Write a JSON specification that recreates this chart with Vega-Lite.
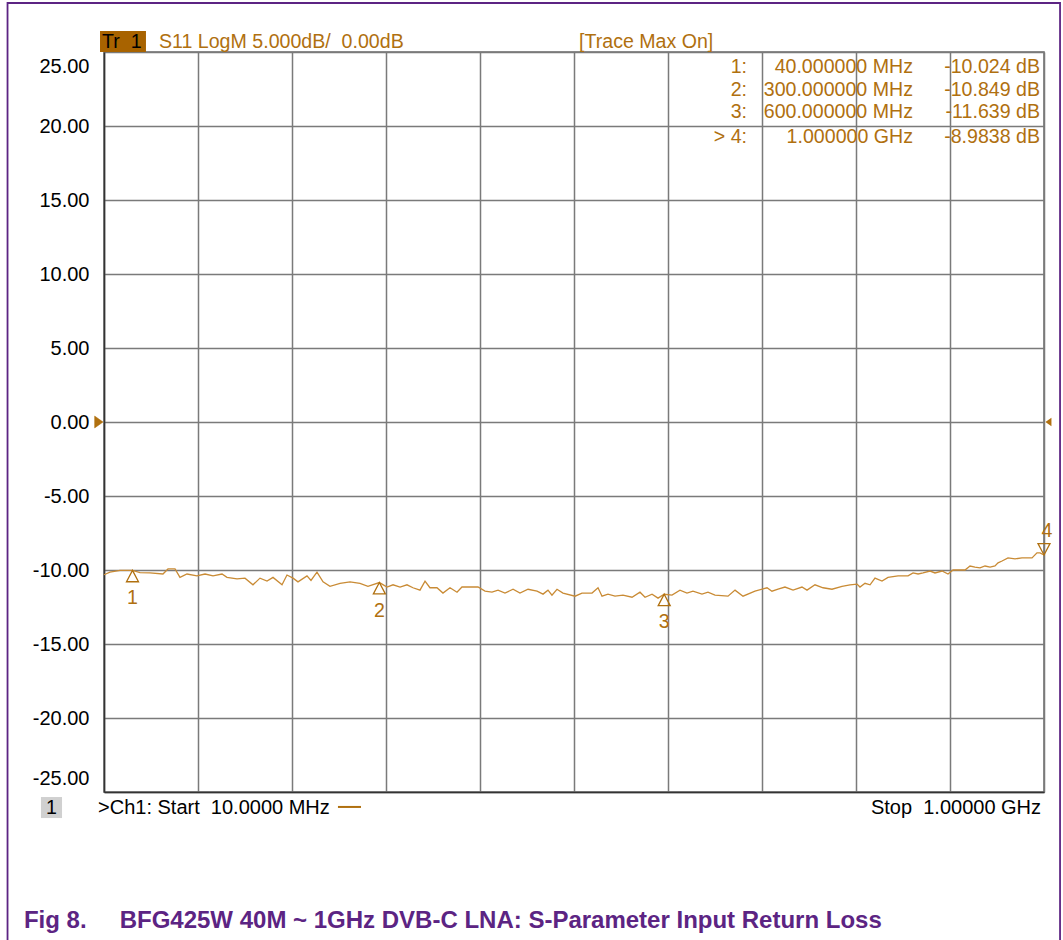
{
  "$schema": "https://vega.github.io/schema/vega-lite/v6.json",
  "width": 940,
  "height": 740,
  "autosize": {"type": "none"},
  "padding": {"left": 104, "top": 52, "right": 19, "bottom": 148},
  "background": "white",
  "data": {"values": [{}]},
  "config": {
    "view": {"stroke": "#6a6a6a", "strokeWidth": 1.5},
    "text": {"font": "Liberation Sans", "fontSize": 19.6}
  },
  "datasets": {
    "trace": [
      {"f": 10, "db": -10.32}, {"f": 16.3, "db": -10.14}, {"f": 26.9, "db": -10.02}, {"f": 34.2, "db": -10.02},
      {"f": 40, "db": -10.024}, {"f": 47.9, "db": -10.18}, {"f": 58.4, "db": -10.2}, {"f": 72.1, "db": -10.27},
      {"f": 77.4, "db": -9.93}, {"f": 84.8, "db": -9.93}, {"f": 90.0, "db": -10.5}, {"f": 97.4, "db": -10.27},
      {"f": 107.9, "db": -10.4}, {"f": 116.4, "db": -10.27}, {"f": 124.8, "db": -10.4}, {"f": 134.3, "db": -10.27},
      {"f": 139.5, "db": -10.5}, {"f": 150.1, "db": -10.6}, {"f": 158.5, "db": -10.55}, {"f": 166.9, "db": -11.0},
      {"f": 174.3, "db": -10.55}, {"f": 181.7, "db": -10.75}, {"f": 188.0, "db": -10.5}, {"f": 197.5, "db": -11.0},
      {"f": 202.7, "db": -10.34}, {"f": 209.1, "db": -10.55}, {"f": 214.3, "db": -10.8}, {"f": 223.8, "db": -10.4},
      {"f": 228.0, "db": -10.7}, {"f": 234.3, "db": -10.14}, {"f": 240.7, "db": -10.8}, {"f": 248.0, "db": -11.1},
      {"f": 258.6, "db": -10.9}, {"f": 269.1, "db": -10.8}, {"f": 279.6, "db": -10.9}, {"f": 288.0, "db": -11.1},
      {"f": 300, "db": -10.849}, {"f": 308.1, "db": -11.15}, {"f": 314.4, "db": -11.0}, {"f": 321.8, "db": -11.15},
      {"f": 329.1, "db": -11.0}, {"f": 335.4, "db": -11.2}, {"f": 342.8, "db": -11.36}, {"f": 348.1, "db": -10.75},
      {"f": 353.3, "db": -11.2}, {"f": 360.7, "db": -11.2}, {"f": 367.0, "db": -11.56}, {"f": 374.4, "db": -11.2},
      {"f": 381.8, "db": -11.5}, {"f": 387.0, "db": -11.15}, {"f": 403.9, "db": -11.15}, {"f": 411.3, "db": -11.43},
      {"f": 418.6, "db": -11.5}, {"f": 425.0, "db": -11.36}, {"f": 432.3, "db": -11.56}, {"f": 440.8, "db": -11.3},
      {"f": 448.1, "db": -11.56}, {"f": 456.6, "db": -11.3}, {"f": 466.1, "db": -11.43}, {"f": 472.4, "db": -11.63},
      {"f": 477.6, "db": -11.36}, {"f": 481.8, "db": -11.7}, {"f": 487.1, "db": -11.3}, {"f": 493.4, "db": -11.56},
      {"f": 506.1, "db": -11.77}, {"f": 513.4, "db": -11.56}, {"f": 524.0, "db": -11.56}, {"f": 530.3, "db": -11.2},
      {"f": 534.5, "db": -11.77}, {"f": 540.8, "db": -11.63}, {"f": 548.2, "db": -11.77}, {"f": 556.6, "db": -11.7},
      {"f": 566.1, "db": -11.84}, {"f": 574.5, "db": -11.5}, {"f": 579.8, "db": -11.84}, {"f": 587.2, "db": -11.63},
      {"f": 593.5, "db": -11.9}, {"f": 600, "db": -11.639}, {"f": 608.2, "db": -11.7}, {"f": 616.6, "db": -11.36},
      {"f": 624.0, "db": -11.56}, {"f": 630.3, "db": -11.43}, {"f": 639.8, "db": -11.63}, {"f": 646.1, "db": -11.5},
      {"f": 653.5, "db": -11.7}, {"f": 667.2, "db": -11.77}, {"f": 674.6, "db": -11.36}, {"f": 683.0, "db": -11.77},
      {"f": 695.6, "db": -11.43}, {"f": 708.3, "db": -11.2}, {"f": 713.5, "db": -11.43}, {"f": 719.9, "db": -11.3},
      {"f": 727.2, "db": -11.15}, {"f": 735.7, "db": -11.36}, {"f": 745.1, "db": -11.15}, {"f": 750.4, "db": -11.36},
      {"f": 758.8, "db": -11.0}, {"f": 767.3, "db": -11.2}, {"f": 776.7, "db": -11.3}, {"f": 787.3, "db": -11.1},
      {"f": 795.7, "db": -11.0}, {"f": 803.1, "db": -10.95}, {"f": 806.2, "db": -11.15}, {"f": 811.5, "db": -10.9},
      {"f": 816.8, "db": -11.0}, {"f": 822.0, "db": -10.55}, {"f": 829.4, "db": -10.75}, {"f": 835.7, "db": -10.5},
      {"f": 846.3, "db": -10.4}, {"f": 856.8, "db": -10.4}, {"f": 862.1, "db": -10.2}, {"f": 867.4, "db": -10.27},
      {"f": 872.6, "db": -10.2}, {"f": 880.0, "db": -10.07}, {"f": 885.2, "db": -10.2}, {"f": 892.6, "db": -10.07},
      {"f": 898.9, "db": -10.27}, {"f": 904.2, "db": -10.0}, {"f": 916.8, "db": -10.0}, {"f": 922.1, "db": -9.73},
      {"f": 927.3, "db": -9.8}, {"f": 932.6, "db": -9.86}, {"f": 937.9, "db": -9.73}, {"f": 943.2, "db": -9.8},
      {"f": 948.4, "db": -9.73}, {"f": 951.6, "db": -9.52}, {"f": 955.8, "db": -9.39}, {"f": 962.1, "db": -9.18},
      {"f": 969.5, "db": -9.25}, {"f": 976.8, "db": -9.18}, {"f": 987.4, "db": -9.18}, {"f": 992.6, "db": -8.84},
      {"f": 995.8, "db": -8.84}, {"f": 1000, "db": -8.9838}
    ],
    "markers": [
      {"m": "1", "f": 40, "db": -10.024},
      {"m": "2", "f": 300, "db": -10.849},
      {"m": "3", "f": 600, "db": -11.639},
      {"m": "4", "f": 1000, "db": -8.9838}
    ]
  },
  "layer": [
    {
      "data": {"name": "trace"},
      "mark": {"type": "line", "color": "#C98B35", "strokeWidth": 1.3, "interpolate": "linear"},
      "encoding": {
        "x": {
          "field": "f", "type": "quantitative",
          "scale": {"domain": [10, 1000], "nice": false, "zero": false},
          "axis": {
            "values": [10, 109, 208, 307, 406, 505, 604, 703, 802, 901, 1000],
            "labels": false, "ticks": false, "domain": true, "domainColor": "#333333", "domainWidth": 1.5,
            "grid": true, "gridColor": "#7a7a7a", "gridWidth": 1.5, "title": null
          }
        },
        "y": {
          "field": "db", "type": "quantitative",
          "scale": {"domain": [-25, 25], "nice": false, "zero": false},
          "axis": {
            "values": [-25, -20, -15, -10, -5, 0, 5, 10, 15, 20, 25],
            "labelExpr": "replace(format(datum.value, '.2f'), '\u2212', '-')",
            "ticks": false, "domain": true, "domainColor": "#333333", "domainWidth": 1.5,
            "grid": true, "gridColor": "#7a7a7a", "gridWidth": 1.5,
            "labelFont": "Liberation Sans", "labelFontSize": 20, "labelColor": "#000000",
            "labelPadding": 15, "labelFlush": true, "labelFlushOffset": -4, "title": null
          }
        }
      }
    },
    {
      "mark": {"type": "rect", "fill": null, "stroke": "#5c2483", "strokeWidth": 1.8, "clip": false},
      "encoding": {
        "x": {"datum": -91.6, "type": "quantitative"},
        "x2": {"datum": 1016.9},
        "y": {"datum": 28.31, "type": "quantitative"},
        "y2": {"datum": -40}
      }
    },
    {
      "data": {"name": "markers"},
      "transform": [{"filter": "datum.m != '4'"}],
      "mark": {"type": "point", "shape": "M0,0L1,1.9L-1,1.9Z", "size": 144, "filled": false, "stroke": "#B0700F", "strokeWidth": 1.3, "opacity": 1},
      "encoding": {
        "x": {"field": "f", "type": "quantitative"},
        "y": {"field": "db", "type": "quantitative"}
      }
    },
    {
      "data": {"name": "markers"},
      "transform": [{"filter": "datum.m == '4'"}],
      "mark": {"type": "point", "shape": "M0,0L1,-1.9L-1,-1.9Z", "size": 144, "filled": false, "stroke": "#B0700F", "strokeWidth": 1.3, "opacity": 1},
      "encoding": {
        "x": {"field": "f", "type": "quantitative"},
        "y": {"field": "db", "type": "quantitative"}
      }
    },
    {
      "data": {"name": "markers"},
      "transform": [{"filter": "datum.m != '4'"}],
      "mark": {"type": "text", "color": "#B0700F", "fontSize": 19.6, "baseline": "middle", "align": "center", "dy": 28},
      "encoding": {
        "x": {"field": "f", "type": "quantitative"},
        "y": {"field": "db", "type": "quantitative"},
        "text": {"field": "m"}
      }
    },
    {
      "data": {"name": "markers"},
      "transform": [{"filter": "datum.m == '4'"}],
      "mark": {"type": "text", "color": "#B0700F", "fontSize": 19.6, "baseline": "middle", "align": "center", "dy": -24, "dx": 3},
      "encoding": {
        "x": {"field": "f", "type": "quantitative"},
        "y": {"field": "db", "type": "quantitative"},
        "text": {"field": "m"}
      }
    },
    {
      "mark": {"type": "point", "shape": "M0,0L-1.2,-0.85L-1.2,0.85Z", "size": 196, "filled": true, "fill": "#B0700F", "stroke": "#B0700F", "strokeWidth": 0.5, "opacity": 1, "clip": false},
      "encoding": {"x": {"datum": 9, "type": "quantitative"}, "y": {"datum": 0, "type": "quantitative"}}
    },
    {
      "mark": {"type": "point", "shape": "M0,0L1,-0.7L1,0.7Z", "size": 144, "filled": true, "fill": "#B0700F", "opacity": 1, "clip": false},
      "encoding": {"x": {"datum": 1001.5, "type": "quantitative"}, "y": {"datum": 0, "type": "quantitative"}}
    },
    {
      "mark": {"type": "rect", "fill": "#A86300", "clip": false},
      "encoding": {
        "x": {"datum": 5.8, "type": "quantitative"}, "x2": {"datum": 54.2},
        "y": {"datum": 26.42, "type": "quantitative"}, "y2": {"datum": 25.0}
      }
    },
    {
      "mark": {"type": "text", "text": "Tr\u00a0\u00a01", "align": "left", "baseline": "alphabetic", "color": "#000000", "clip": false},
      "encoding": {"x": {"datum": 7.9, "type": "quantitative"}, "y": {"datum": 25.24, "type": "quantitative"}}
    },
    {
      "mark": {"type": "text", "text": "S11 LogM 5.000dB/\u00a0\u00a00.00dB", "align": "left", "baseline": "alphabetic", "color": "#B0700F", "clip": false},
      "encoding": {"x": {"datum": 67.9, "type": "quantitative"}, "y": {"datum": 25.24, "type": "quantitative"}}
    },
    {
      "mark": {"type": "text", "text": "[Trace Max On]", "align": "left", "baseline": "alphabetic", "color": "#B0700F", "clip": false},
      "encoding": {"x": {"datum": 510.3, "type": "quantitative"}, "y": {"datum": 25.24, "type": "quantitative"}}
    },
    {
      "mark": {"type": "text", "text": ["1:", "2:", "3:"], "lineHeight": 22.5, "align": "right", "baseline": "alphabetic", "color": "#B0700F"},
      "encoding": {"x": {"datum": 687.2, "type": "quantitative"}, "y": {"datum": 23.55, "type": "quantitative"}}
    },
    {
      "mark": {"type": "text", "text": ["40.000000 MHz", "300.000000 MHz", "600.000000 MHz"], "lineHeight": 22.5, "align": "right", "baseline": "alphabetic", "color": "#B0700F"},
      "encoding": {"x": {"datum": 862.0, "type": "quantitative"}, "y": {"datum": 23.55, "type": "quantitative"}}
    },
    {
      "mark": {"type": "text", "text": ["-10.024 dB", "-10.849 dB", "-11.639 dB"], "lineHeight": 22.5, "align": "right", "baseline": "alphabetic", "color": "#B0700F"},
      "encoding": {"x": {"datum": 995.8, "type": "quantitative"}, "y": {"datum": 23.55, "type": "quantitative"}}
    },
    {
      "mark": {"type": "text", "text": "> 4:", "align": "right", "baseline": "alphabetic", "color": "#B0700F"},
      "encoding": {"x": {"datum": 687.2, "type": "quantitative"}, "y": {"datum": 18.82, "type": "quantitative"}}
    },
    {
      "mark": {"type": "text", "text": "1.000000 GHz", "align": "right", "baseline": "alphabetic", "color": "#B0700F"},
      "encoding": {"x": {"datum": 862.0, "type": "quantitative"}, "y": {"datum": 18.82, "type": "quantitative"}}
    },
    {
      "mark": {"type": "text", "text": "-8.9838 dB", "align": "right", "baseline": "alphabetic", "color": "#B0700F"},
      "encoding": {"x": {"datum": 995.8, "type": "quantitative"}, "y": {"datum": 18.82, "type": "quantitative"}}
    },
    {
      "mark": {"type": "rect", "fill": "#d0d0d0", "clip": false},
      "encoding": {
        "x": {"datum": -56.4, "type": "quantitative"}, "x2": {"datum": -34.2},
        "y": {"datum": -25.34, "type": "quantitative"}, "y2": {"datum": -26.76}
      }
    },
    {
      "mark": {"type": "text", "text": "1", "align": "center", "baseline": "alphabetic", "color": "#000000", "clip": false},
      "encoding": {"x": {"datum": -45.3, "type": "quantitative"}, "y": {"datum": -26.51, "type": "quantitative"}}
    },
    {
      "mark": {"type": "text", "text": ">Ch1: Start\u00a0\u00a010.0000 MHz", "align": "left", "baseline": "alphabetic", "color": "#000000", "fontSize": 20, "clip": false},
      "encoding": {"x": {"datum": 3.7, "type": "quantitative"}, "y": {"datum": -26.51, "type": "quantitative"}}
    },
    {
      "mark": {"type": "rule", "color": "#B0700F", "strokeWidth": 2, "clip": false},
      "encoding": {
        "x": {"datum": 256.4, "type": "quantitative"}, "x2": {"datum": 280.7},
        "y": {"datum": -26.01, "type": "quantitative"}
      }
    },
    {
      "mark": {"type": "text", "text": "Stop\u00a0\u00a01.00000 GHz", "align": "right", "baseline": "alphabetic", "color": "#000000", "fontSize": 20, "clip": false},
      "encoding": {"x": {"datum": 996.9, "type": "quantitative"}, "y": {"datum": -26.51, "type": "quantitative"}}
    },
    {
      "mark": {"type": "text", "text": "Fig 8.", "align": "left", "baseline": "alphabetic", "color": "#5c2483", "fontSize": 24, "fontWeight": "bold", "font": "Liberation Sans", "clip": false},
      "encoding": {"x": {"datum": -74.3, "type": "quantitative"}, "y": {"datum": -34.18, "type": "quantitative"}}
    },
    {
      "mark": {"type": "text", "text": "BFG425W 40M ~ 1GHz DVB-C LNA: S-Parameter Input Return Loss", "align": "left", "baseline": "alphabetic", "color": "#5c2483", "fontSize": 24, "fontWeight": "bold", "font": "Liberation Sans", "clip": false},
      "encoding": {"x": {"datum": 26.5, "type": "quantitative"}, "y": {"datum": -34.18, "type": "quantitative"}}
    }
  ]
}
